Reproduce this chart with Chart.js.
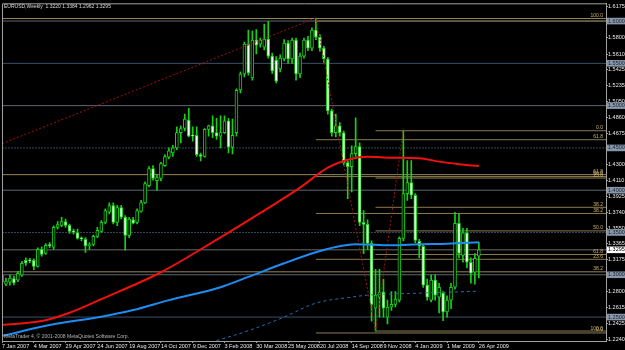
<!DOCTYPE html>
<html>
<head>
<meta charset="utf-8">
<script src="https://cdn.jsdelivr.net/npm/chart.js@4.4.0/dist/chart.umd.min.js"></script>
<style>
    html, body { margin: 0; padding: 0; background: #000; }
    canvas { display: block; }
</style>
</head>
<body>
<canvas id="chart" width="625" height="350"></canvas>
<script>
// EURUSD weekly candles, 7 Jan 2007 .. 26 Apr 2009
const opens = [
    1.2995, 1.2890, 1.2913, 1.2955, 1.2936, 1.2995, 1.3171, 1.3171, 1.3171, 1.3100,
    1.3301, 1.3254, 1.3350, 1.3325, 1.3560, 1.3584, 1.3630, 1.3584, 1.3513, 1.3500,
    1.3430, 1.3420, 1.3345, 1.3360, 1.3454, 1.3513, 1.3620, 1.3740, 1.3819, 1.3620,
    1.3795, 1.3680, 1.3466, 1.3650, 1.3620, 1.3750, 1.3850, 1.4055, 1.4255, 1.4114,
    1.4140, 1.4290, 1.4390, 1.4440, 1.4500, 1.4680, 1.4730, 1.4830, 1.4650, 1.4650,
    1.4420, 1.4400, 1.4720, 1.4760, 1.4680, 1.4640, 1.4680, 1.4820, 1.4510, 1.4680,
    1.5186, 1.5374, 1.5728, 1.5327, 1.5775, 1.5728, 1.5692, 1.5787, 1.5586, 1.5540,
    1.5433, 1.5551, 1.5739, 1.5551, 1.5775, 1.5374, 1.5586, 1.5775, 1.5680, 1.5893,
    1.5810, 1.5680, 1.5551, 1.4938, 1.4679, 1.4762, 1.4679, 1.4326, 1.4279, 1.4432,
    1.4515, 1.3620, 1.3596, 1.3372, 1.2606, 1.2736, 1.2794, 1.2500, 1.2617, 1.2650,
    1.2700, 1.3430, 1.3960, 1.4090, 1.3940, 1.3396, 1.3337, 1.2877, 1.2700, 1.2936,
    1.2736, 1.2783, 1.2560, 1.2700, 1.2853, 1.3608, 1.3230, 1.3496, 1.3148, 1.3030,
    1.3220
];
const highs = [
    1.3030, 1.2960, 1.3000, 1.2985, 1.3040, 1.3160, 1.3200, 1.3195, 1.3190, 1.3320,
    1.3330, 1.3370, 1.3380, 1.3580, 1.3630, 1.3680, 1.3660, 1.3600, 1.3540, 1.3540,
    1.3450, 1.3440, 1.3380, 1.3470, 1.3560, 1.3640, 1.3780, 1.3850, 1.3850, 1.3820,
    1.3820, 1.3700, 1.3680, 1.3680, 1.3780, 1.3880, 1.4100, 1.4280, 1.4290, 1.4180,
    1.4330, 1.4420, 1.4500, 1.4530, 1.4750, 1.4760, 1.4900, 1.4967, 1.4750, 1.4750,
    1.4440, 1.4730, 1.4770, 1.4880, 1.4850, 1.4880, 1.4880, 1.4850, 1.4840, 1.5200,
    1.5400, 1.5750, 1.5893, 1.5881, 1.5900, 1.5800, 1.5963, 1.5998, 1.5620, 1.5580,
    1.5600, 1.5780, 1.5770, 1.5800, 1.5800, 1.5620, 1.5800, 1.5820, 1.5920, 1.6030,
    1.5840, 1.5700, 1.5570, 1.4960, 1.4900, 1.4800, 1.4700, 1.4350, 1.4526, 1.4855,
    1.4560, 1.3760, 1.3650, 1.3400, 1.3065, 1.3065, 1.2950, 1.2700, 1.2800, 1.2800,
    1.3450, 1.4703, 1.4349, 1.4349, 1.3960, 1.3420, 1.3360, 1.2950, 1.3000, 1.3000,
    1.2900, 1.2800, 1.2750, 1.2900, 1.3738, 1.3720, 1.3550, 1.3550, 1.3200, 1.3250,
    1.3384
];
const lows = [
    1.2855, 1.2870, 1.2877, 1.2880, 1.2920, 1.2980, 1.3110, 1.3140, 1.3060, 1.3090,
    1.3220, 1.3240, 1.3320, 1.3300, 1.3540, 1.3570, 1.3560, 1.3490, 1.3480, 1.3420,
    1.3400, 1.3265, 1.3300, 1.3340, 1.3440, 1.3500, 1.3600, 1.3720, 1.3600, 1.3580,
    1.3660, 1.3290, 1.3440, 1.3600, 1.3600, 1.3740, 1.3840, 1.4040, 1.4120, 1.3996,
    1.4110, 1.4280, 1.4370, 1.4400, 1.4480, 1.4560, 1.4700, 1.4630, 1.4580, 1.4400,
    1.4345, 1.4390, 1.4640, 1.4620, 1.4600, 1.4500, 1.4670, 1.4440, 1.4430, 1.4640,
    1.5150, 1.5340, 1.5360, 1.5300, 1.5610, 1.5690, 1.5660, 1.5560, 1.5380, 1.5270,
    1.5400, 1.5530, 1.5500, 1.5500, 1.5300, 1.5330, 1.5560, 1.5650, 1.5650, 1.5780,
    1.5640, 1.5510, 1.4900, 1.4640, 1.4630, 1.4640, 1.4300, 1.3900, 1.3980, 1.4400,
    1.3580, 1.3250, 1.3300, 1.2450, 1.2330, 1.2500, 1.2500, 1.2420, 1.2580, 1.2620,
    1.2680, 1.3400, 1.3878, 1.3900, 1.3380, 1.3200, 1.2850, 1.2700, 1.2680, 1.2700,
    1.2550, 1.2456, 1.2500, 1.2600, 1.2830, 1.3200, 1.3150, 1.3080, 1.2900, 1.2890,
    1.2962
];
const closes = [
    1.2913, 1.2925, 1.2960, 1.2905, 1.3018, 1.3136, 1.3136, 1.3165, 1.3100, 1.3301,
    1.3242, 1.3348, 1.3345, 1.3560, 1.3595, 1.3630, 1.3584, 1.3513, 1.3508, 1.3430,
    1.3425, 1.3340, 1.3350, 1.3454, 1.3525, 1.3620, 1.3760, 1.3819, 1.3620, 1.3795,
    1.3680, 1.3466, 1.3660, 1.3610, 1.3760, 1.3855, 1.4078, 1.4255, 1.4140, 1.4150,
    1.4314, 1.4397, 1.4467, 1.4500, 1.4680, 1.4730, 1.4840, 1.4640, 1.4640, 1.4420,
    1.4400, 1.4720, 1.4760, 1.4680, 1.4640, 1.4680, 1.4820, 1.4510, 1.4650, 1.5180,
    1.5374, 1.5728, 1.5386, 1.5775, 1.5716, 1.5775, 1.5787, 1.5586, 1.5409, 1.5290,
    1.5562, 1.5739, 1.5551, 1.5775, 1.5374, 1.5586, 1.5775, 1.5680, 1.5893, 1.5810,
    1.5680, 1.5551, 1.4938, 1.4679, 1.4762, 1.4679, 1.4326, 1.4279, 1.4432, 1.4515,
    1.3620, 1.3596, 1.3372, 1.2650, 1.2759, 1.2794, 1.2606, 1.2617, 1.2650, 1.2712,
    1.3430, 1.3960, 1.4090, 1.3940, 1.3407, 1.3337, 1.2877, 1.2736, 1.2936, 1.2759,
    1.2853, 1.2560, 1.2700, 1.2853, 1.3608, 1.3254, 1.3496, 1.3148, 1.3018, 1.3195,
    1.3295
];

// date labels, one every 8 weeks
const dateTicks = ['7 Jan 2007', '4 Mar 2007', '29 Apr 2007', '24 Jun 2007', '19 Aug 2007',
    '14 Oct 2007', '9 Dec 2007', '3 Feb 2008', '30 Mar 2008', '25 May 2008', '20 Jul 2008',
    '14 Sep 2008', '9 Nov 2008', '4 Jan 2009', '1 Mar 2009', '26 Apr 2009'];

// price scale labels
const priceTicks = [1.6175, 1.5990, 1.5800, 1.5610, 1.5425, 1.5235, 1.5050, 1.4860, 1.4675,
    1.4485, 1.4300, 1.4110, 1.3925, 1.3740, 1.3550, 1.3365, 1.3175, 1.2990, 1.2800, 1.2615,
    1.2425, 1.2240];

// horizontal lines at round numbers + bid
const roundLevels = [1.60, 1.55, 1.50, 1.45, 1.40, 1.35, 1.30, 1.25];
const bidPrice = 1.3295;

// three fibonacci retracements (start bar, prices, level texts)
const fiboAStart = 0;
const fiboAPrices = [1.6030, 1.4184, 1.3035];
const fiboALabels = ['100.0', '61.8', '38.2'];
const fiboBStart = 79;
const fiboBPrices = [1.6000, 1.4597, 1.4161, 1.3725, 1.3183, 1.2312];
const fiboBLabels = ['', '61.8', '50.0', '38.2', '23.6', '0.0'];
const fiboCStart = 94;
const fiboCPrices = [1.4703, 1.4144, 1.3798, 1.3519, 1.3240, 1.2335];
const fiboCLabels = ['0.0', '23.6', '38.2', '50.0', '61.8', '100.0'];

// indicator lines read at some bars
const redMaBars = [0, 10, 17, 25, 40, 55, 62, 75, 82, 88, 92, 98, 105, 110, 115, 120];
const redMaValues = [1.2406, 1.2453, 1.2551, 1.2712, 1.3030, 1.3443, 1.3643, 1.4031, 1.4267,
    1.4373, 1.4396, 1.4385, 1.4379, 1.4338, 1.4308, 1.4285];
const blueMaBars = [0, 12, 25, 33, 42, 55, 62, 71, 79, 84, 89, 98, 105, 112, 120];
const blueMaValues = [1.2276, 1.2406, 1.2504, 1.2583, 1.2700, 1.2853, 1.2975, 1.3136, 1.3266,
    1.3329, 1.3360, 1.3348, 1.3360, 1.3366, 1.3384];
const slowMaBars = [54, 62, 71, 79, 88, 92, 105, 120];
const slowMaValues = [1.2222, 1.2339, 1.2500, 1.2665, 1.2736, 1.2759, 1.2783, 1.2806];
const zigzagBars = [0, 79, 94, 101];
const zigzagValues = [1.4550, 1.6038, 1.2330, 1.4719];

const slots = 153;
const FONT = "'Liberation Sans', Arial, sans-serif";
const GREEN = '#18d018';

document.addEventListener('DOMContentLoaded', function () {
    const labels = [];
    for (let i = 0; i < slots; i++) {
        labels.push(i % 8 === 0 && i / 8 < dateTicks.length ? dateTicks[i / 8] : '');
    }

    function sparse(bars, values) {
        const arr = new Array(slots).fill(null);
        bars.forEach((b, j) => { arr[b] = values[j]; });
        return arr;
    }

    function hline(price, from, color, dash, order) {
        return {
            type: 'line',
            data: sparse([from, slots - 1], [price, price]),
            borderColor: color,
            borderWidth: 1,
            borderDash: dash || [],
            pointRadius: 0,
            spanGaps: true,
            order: order || 10
        };
    }

    const datasets = [];

    // round number lines
    roundLevels.forEach((p, i) => {
        const dotted = (p === 1.45 || p === 1.35);
        datasets.push(hline(p, 0, dotted ? '#34465c' : (i % 2 ? '#3c5068' : '#5c6674'), dotted ? [2, 1] : [], 12));
    });
    datasets.push(hline(bidPrice, 0, '#6a6a6a', [], 12));

    // fibo lines
    fiboAPrices.forEach(p => datasets.push(hline(p, fiboAStart, '#968556')));
    fiboBPrices.forEach(p => datasets.push(hline(p, fiboBStart, '#8a7b50')));
    fiboCPrices.forEach(p => datasets.push(hline(p, fiboCStart, '#8a7b50')));

    // candle wicks
    datasets.push({
        type: 'bar',
        data: lows.map((l, i) => [l, highs[i]]),
        backgroundColor: GREEN,
        borderWidth: 0,
        barThickness: 1,
        grouped: false,
        order: 5
    });

    // candle bodies: white = bearish, black = bullish
    datasets.push({
        type: 'bar',
        data: opens.map((o, i) => [o, closes[i]]),
        backgroundColor: ctx => closes[ctx.dataIndex] < opens[ctx.dataIndex] ? '#eefeee' : '#000000',
        borderColor: GREEN,
        borderWidth: 1,
        borderSkipped: false,
        barThickness: 3,
        minBarLength: 1,
        grouped: false,
        order: 4
    });

    // indicators
    datasets.push({
        type: 'line',
        data: sparse(zigzagBars, zigzagValues),
        borderColor: '#a01414',
        borderWidth: 1,
        borderDash: [2, 2],
        pointRadius: 0,
        spanGaps: true,
        order: 3
    });
    datasets.push({
        type: 'line',
        data: sparse(slowMaBars, slowMaValues),
        borderColor: '#1e6eb8',
        borderWidth: 1,
        borderDash: [3, 3],
        pointRadius: 0,
        spanGaps: true,
        cubicInterpolationMode: 'monotone',
        order: 2
    });
    datasets.push({
        type: 'line',
        data: sparse(blueMaBars, blueMaValues),
        borderColor: '#1e8cf0',
        borderWidth: 2,
        pointRadius: 0,
        spanGaps: true,
        cubicInterpolationMode: 'monotone',
        order: 1
    });
    datasets.push({
        type: 'line',
        data: sparse(redMaBars, redMaValues),
        borderColor: '#f01010',
        borderWidth: 2,
        pointRadius: 0,
        spanGaps: true,
        cubicInterpolationMode: 'monotone',
        order: 1
    });

    const boxed = roundLevels.concat([bidPrice]);

    // background, frame and the texts MT4 draws on the chart
    const decor = {
        id: 'decor',
        beforeDraw(chart) {
            const ctx = chart.ctx;
            ctx.save();
            ctx.fillStyle = '#000000';
            ctx.fillRect(0, 0, chart.width, chart.height);
            ctx.restore();
        },
        afterDraw(chart) {
            const ctx = chart.ctx;
            const a = chart.chartArea;
            const y = chart.scales.y;
            ctx.save();
            ctx.strokeStyle = '#a0a0a0';
            ctx.lineWidth = 1;
            ctx.beginPath();
            ctx.moveTo(a.left + 0.5, a.bottom);
            ctx.lineTo(a.left + 0.5, a.top + 0.5);
            ctx.lineTo(a.right, a.top + 0.5);
            ctx.stroke();

            ctx.font = '5px ' + FONT;
            ctx.textBaseline = 'alphabetic';
            ctx.fillStyle = '#d8d8d8';
            ctx.textAlign = 'left';
            ctx.fillText('EURUSD,Weekly  1.3220 1.3384 1.2962 1.3295', a.left + 2, 8);
            ctx.fillStyle = '#b4b4b4';
            ctx.fillText('MetaTrader 4, \u00a9 2001-2008 MetaQuotes Software Corp.', a.left + 2, a.bottom - 3);

            ctx.fillStyle = '#c8b46e';
            ctx.textAlign = 'right';
            [[fiboAPrices, fiboALabels], [fiboBPrices, fiboBLabels], [fiboCPrices, fiboCLabels]].forEach(set => {
                set[0].forEach((p, i) => {
                    if (set[1][i]) {
                        ctx.fillText(set[1][i], a.right - 3, y.getPixelForValue(p) - 1.5);
                    }
                });
            });
            ctx.restore();
        }
    };

    new Chart(document.getElementById('chart'), {
        data: { labels: labels, datasets: datasets },
        options: {
            responsive: false,
            animation: false,
            devicePixelRatio: 1,
            layout: { padding: { left: 2, top: 2, right: 0, bottom: 0 } },
            plugins: {
                legend: { display: false },
                tooltip: { enabled: false }
            },
            scales: {
                x: {
                    type: 'category',
                    offset: false,
                    afterFit: s => { s.height = 9; },
                    grid: { drawOnChartArea: false, color: '#a0a0a0', tickLength: 2, offset: false },
                    border: { color: '#a0a0a0' },
                    ticks: {
                        autoSkip: false,
                        maxRotation: 0,
                        minRotation: 0,
                        align: 'start',
                        padding: 0,
                        color: '#e8e8e8',
                        font: { family: FONT, size: 5.5 },
                        callback: function (v) {
                            const l = this.getLabelForValue(v);
                            return l ? l : null;
                        }
                    }
                },
                y: {
                    position: 'right',
                    min: 1.2217,
                    max: 1.6210,
                    afterFit: s => { s.width = 19; },
                    afterBuildTicks: s => {
                        s.ticks = priceTicks.concat(boxed).map(v => ({ value: v }));
                    },
                    grid: { drawOnChartArea: false, color: '#a0a0a0', tickLength: 2 },
                    border: { color: '#a0a0a0' },
                    ticks: {
                        autoSkip: false,
                        padding: 0,
                        font: { family: FONT, size: 5.5 },
                        color: ctx => ctx.tick && ctx.tick.value === bidPrice ? '#000000'
                            : (ctx.tick && boxed.includes(ctx.tick.value) ? '#1c2430' : '#e8e8e8'),
                        showLabelBackdrop: ctx => !!(ctx.tick && boxed.includes(ctx.tick.value)),
                        backdropColor: ctx => ctx.tick && ctx.tick.value === bidPrice ? '#ffffff' : '#8796a8',
                        backdropPadding: { x: 1, y: 0 },
                        callback: v => v.toFixed(4)
                    }
                }
            }
        },
        plugins: [decor]
    });
});
</script>
</body>
</html>
